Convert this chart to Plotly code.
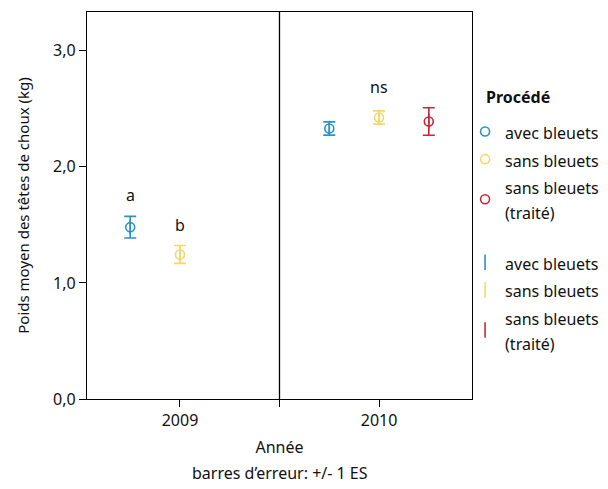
import plotly.graph_objects as go

# ---- data ----
years = ["2009", "2010"]
groups = ["avec bleuets", "sans bleuets", "sans bleuets (traité)"]
legend_names = ["avec bleuets", "sans bleuets", "sans bleuets<br>(traité)"]
colors = ["#2b93c4", "#f9d66b", "#c12a39"]

mean_avec = [1.48, 2.33]
mean_sans = [1.245, 2.425]
mean_traite = [None, 2.39]
se_avec = [0.093, 0.057]
se_sans = [0.077, 0.057]
se_traite = [None, 0.118]

letters = ["a", "b", "ns"]
letter_year = [0, 0, 1]
letter_group = [0, 1, 1]

means = [mean_avec, mean_sans, mean_traite]
ses = [se_avec, se_sans, se_traite]

FONT = "Noto Sans"
dodge = [-0.25, 0.0, 0.25]


def leg(name):
    return '<span style="font-size:16px">' + name + "</span>"


fig = go.Figure()

# points (open circles)
for g in range(3):
    xs = [i + dodge[g] for i, m in enumerate(means[g]) if m is not None]
    ys = [m for m in means[g] if m is not None]
    fig.add_trace(go.Scatter(
        x=xs, y=ys, mode="markers", name=leg(legend_names[g]),
        legendgroup="pts",
        marker=dict(symbol="circle-open", size=9, color=colors[g],
                    line=dict(width=1.6, color=colors[g])),
        hoverinfo="skip",
    ))

# error bars
for g in range(3):
    xs = [i + dodge[g] for i, m in enumerate(means[g]) if m is not None]
    ys = [m for m in means[g] if m is not None]
    es = [e for e in ses[g] if e is not None]
    fig.add_trace(go.Scatter(
        x=xs, y=ys, mode="markers", name=leg(legend_names[g]),
        legendgroup="err",
        marker=dict(symbol="line-ns-open", size=11, color=colors[g],
                    line=dict(width=1.6, color=colors[g])),
        error_y=dict(type="data", array=es, visible=True, color=colors[g],
                     thickness=1.6, width=6),
        hoverinfo="skip",
    ))

# significance letters
for lab, yi, gi in zip(letters, letter_year, letter_group):
    if lab == "ns":
        top = max(means[k][yi] + ses[k][yi] for k in range(3) if means[k][yi] is not None)
    else:
        top = means[gi][yi] + ses[gi][yi]
    fig.add_annotation(x=yi + dodge[gi], y=top + 0.18, text=lab, showarrow=False,
                       xref="x", yref="y", yanchor="middle",
                       font=dict(family=FONT, size=16, color="#111111"))

# divider between years
fig.add_shape(type="line", xref="x", yref="y domain", x0=0.5, x1=0.5, y0=0, y1=1,
              line=dict(color="black", width=1.3))

fig.add_annotation(text="barres d’erreur: +/- 1 ES", xref="paper", yref="paper",
                   x=0.5, y=-0.19, yanchor="middle", showarrow=False,
                   font=dict(family=FONT, size=16, color="#111111"))

# legend title
fig.add_annotation(text="<b>Procédé</b>", xref="paper", yref="paper",
                   x=1.03, xanchor="left", y=0.781, yanchor="middle", showarrow=False,
                   font=dict(family=FONT, size=16, color="#111111"))

fig.update_layout(
    width=608, height=489,
    margin=dict(l=87, r=136, t=12, b=90, autoexpand=False),
    paper_bgcolor="white", plot_bgcolor="white",
    separators=",.",
    font=dict(family=FONT, size=16, color="#111111"),
    showlegend=True,
    legend=dict(
        x=0.982, xanchor="left", y=0.74, yanchor="top",
        font=dict(family=FONT, size=19, color="#111111"),
        tracegroupgap=23, itemwidth=30, bgcolor="rgba(0,0,0,0)",
    ),
    xaxis=dict(
        range=[-0.467, 1.467], tickvals=[0, 0.5, 1], ticktext=[years[0], "", years[1]],
        showline=True, mirror=True, linecolor="black", linewidth=1.3,
        ticks="outside", ticklen=7, tickwidth=1.3, tickcolor="black",
        showgrid=False, zeroline=False,
        title=dict(text="Année", standoff=11, font=dict(family=FONT, size=16)),
        tickfont=dict(family=FONT, size=16),
    ),
    yaxis=dict(
        range=[0, 10 / 3], tickvals=[0, 1, 2, 3], tickformat=".1f",
        showline=True, mirror=True, linecolor="black", linewidth=1.3,
        ticks="outside", ticklen=7, tickwidth=1.3, tickcolor="black",
        showgrid=False, zeroline=False,
        title=dict(text="Poids moyen des têtes de choux (kg)", standoff=19,
                   font=dict(family=FONT, size=15)),
        tickfont=dict(family=FONT, size=16),
    ),
)

fig.write_html("out.html", config={"displayModeBar": False},
               post_script="document.body.style.margin='0';")
